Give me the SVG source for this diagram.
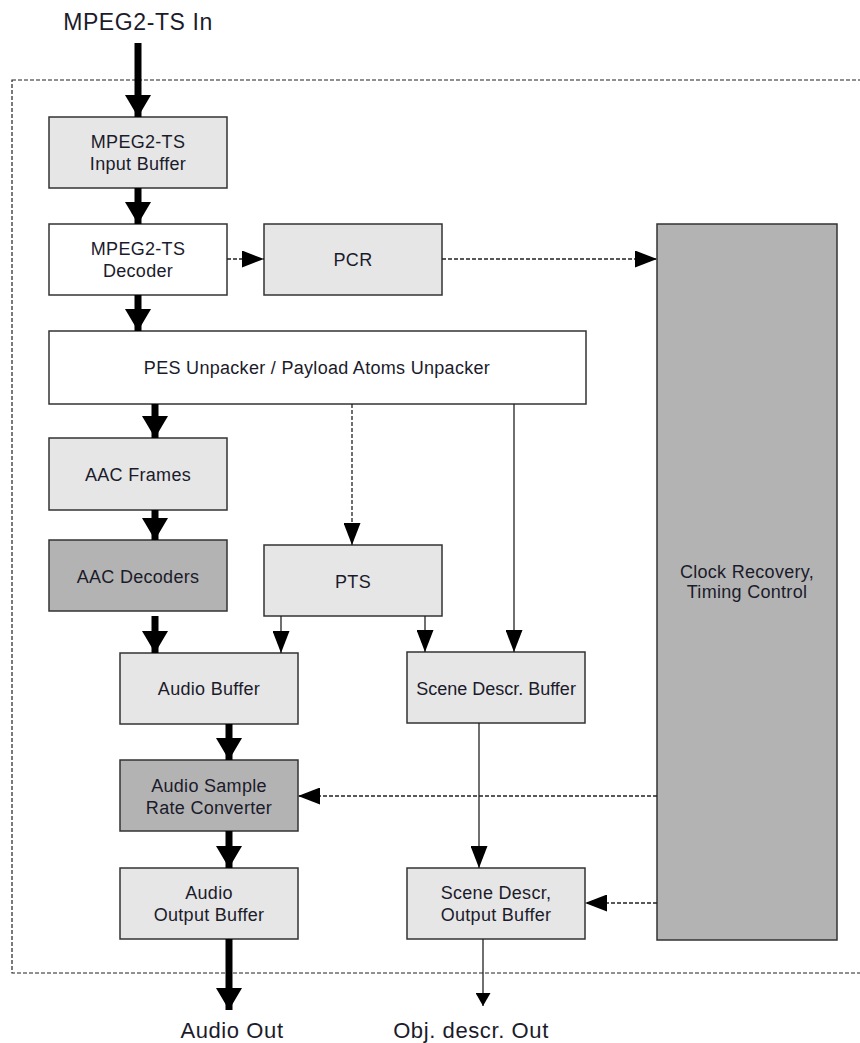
<svg xmlns="http://www.w3.org/2000/svg" width="860" height="1043" viewBox="0 0 860 1043">
<style>
  .box{stroke:#333;stroke-width:1.5}
  .light{fill:#e6e6e6}
  .dark{fill:#b3b3b3}
  .white{fill:#fff}
  text{font-family:"Liberation Sans",Arial,sans-serif;font-size:18px;letter-spacing:0.3px;fill:#1b1b2b;text-anchor:middle}
  .big{font-size:22px;letter-spacing:0.6px}
  .thick{stroke:#000;stroke-width:7;fill:none}
  .thin{stroke:#222;stroke-width:1.3;fill:none}
  .dash{stroke:#222;stroke-width:1.3;fill:none;stroke-dasharray:4 2}
</style>
<defs>
  <marker id="hThick" markerUnits="userSpaceOnUse" markerWidth="26" markerHeight="26" viewBox="0 0 22 26" refX="22" refY="13" orient="auto">
    <path d="M0,0 L22,13 L0,26 Z" fill="#000"/>
  </marker>
  <marker id="hThin" markerUnits="userSpaceOnUse" markerWidth="22" markerHeight="17" viewBox="0 0 22 17" refX="22" refY="8.5" orient="auto">
    <path d="M0,0 L22,8.5 L0,17 Z" fill="#000"/>
  </marker>
  <marker id="hSmall" markerUnits="userSpaceOnUse" markerWidth="13" markerHeight="15" viewBox="0 0 13 15" refX="13" refY="7.5" orient="auto">
    <path d="M0,0 L13,7.5 L0,15 Z" fill="#000"/>
  </marker>
</defs>

<rect x="12" y="80" width="860" height="893" fill="none" stroke="#222" stroke-width="1.2" stroke-dasharray="4 2"/>

<text class="big" x="138" y="30" style="font-size:23px">MPEG2-TS In</text>
<text class="big" x="232" y="1038">Audio Out</text>
<text class="big" x="471" y="1038">Obj. descr. Out</text>

<g id="input-buffer"><rect class="box light" x="49" y="117" width="178" height="71"/><text x="138" y="148">MPEG2-TS</text><text x="138" y="170">Input Buffer</text></g>
<g id="decoder"><rect class="box white" x="49" y="224" width="178" height="71"/><text x="138" y="255">MPEG2-TS</text><text x="138" y="277">Decoder</text></g>
<g id="pcr"><rect class="box light" x="264" y="224" width="178" height="71"/><text x="353" y="266">PCR</text></g>
<g id="clock"><rect class="box dark" x="657" y="224" width="180" height="716"/><text x="747" y="578">Clock Recovery,</text><text x="747" y="598">Timing Control</text></g>
<g id="pes"><rect class="box white" x="49" y="331" width="537" height="73"/><text x="317" y="374">PES Unpacker / Payload Atoms Unpacker</text></g>
<g id="aac-frames"><rect class="box light" x="49" y="438" width="178" height="72"/><text x="138" y="481">AAC Frames</text></g>
<g id="aac-decoders"><rect class="box dark" x="49" y="540" width="178" height="71"/><text x="138" y="583">AAC Decoders</text></g>
<g id="pts"><rect class="box light" x="264" y="545" width="178" height="71"/><text x="353" y="588">PTS</text></g>
<g id="audio-buffer"><rect class="box light" x="120" y="653" width="178" height="71"/><text x="209" y="695">Audio Buffer</text></g>
<g id="scene-buffer"><rect class="box light" x="407" y="652" width="178" height="71"/><text x="496" y="695" style="letter-spacing:0">Scene Descr. Buffer</text></g>
<g id="asrc"><rect class="box dark" x="120" y="760" width="178" height="71"/><text x="209" y="792">Audio Sample</text><text x="209" y="814">Rate Converter</text></g>
<g id="audio-output"><rect class="box light" x="120" y="868" width="178" height="71"/><text x="209" y="899">Audio</text><text x="209" y="921">Output Buffer</text></g>
<g id="scene-output"><rect class="box light" x="407" y="868" width="178" height="71"/><text x="496" y="899">Scene Descr,</text><text x="496" y="921">Output Buffer</text></g>

<g id="connectors">
  <line class="thick" x1="138" y1="43" x2="138" y2="117" marker-end="url(#hThick)"/>
  <line class="thick" x1="138" y1="188" x2="138" y2="224" marker-end="url(#hThick)"/>
  <line class="thick" x1="138" y1="295" x2="138" y2="331" marker-end="url(#hThick)"/>
  <line class="thick" x1="155" y1="404" x2="155" y2="438" marker-end="url(#hThick)"/>
  <line class="thick" x1="155" y1="510" x2="155" y2="540" marker-end="url(#hThick)"/>
  <line class="thick" x1="155" y1="616" x2="155" y2="653" marker-end="url(#hThick)"/>
  <line class="thick" x1="229" y1="724" x2="229" y2="760" marker-end="url(#hThick)"/>
  <line class="thick" x1="229" y1="831" x2="229" y2="868" marker-end="url(#hThick)"/>
  <line class="thick" x1="229" y1="939" x2="229" y2="1010" marker-end="url(#hThick)"/>

  <line class="dash" x1="227" y1="259" x2="264" y2="259" marker-end="url(#hThin)"/>
  <line class="dash" x1="442" y1="259" x2="657" y2="259" marker-end="url(#hThin)"/>
  <line class="dash" x1="352" y1="404" x2="352" y2="545" marker-end="url(#hThin)"/>
  <line class="dash" x1="657" y1="796" x2="298" y2="796" marker-end="url(#hThin)"/>
  <line class="dash" x1="657" y1="903" x2="585" y2="903" marker-end="url(#hThin)"/>

  <line class="thin" x1="514" y1="404" x2="514" y2="652" marker-end="url(#hThin)"/>
  <line class="thin" x1="281" y1="616" x2="281" y2="653" marker-end="url(#hThin)"/>
  <line class="thin" x1="425" y1="616" x2="425" y2="652" marker-end="url(#hThin)"/>
  <line class="thin" x1="479" y1="723" x2="479" y2="868" marker-end="url(#hThin)"/>
  <line class="thin" x1="483" y1="939" x2="483" y2="1006" marker-end="url(#hSmall)"/>
</g>
</svg>
